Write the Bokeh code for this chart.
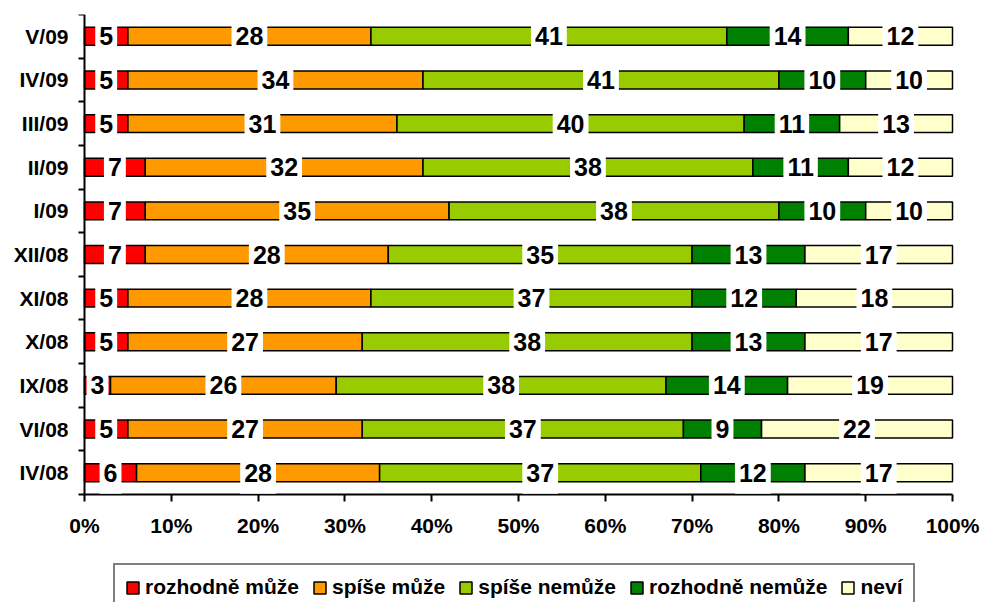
from bokeh.plotting import figure
from bokeh.models import (ColumnDataSource, FixedTicker, Label, Legend, LegendItem,
                          PrintfTickFormatter, Range1d)
from bokeh.embed import file_html
from bokeh.resources import INLINE

# categories listed top to bottom
categories = ["V/09", "IV/09", "III/09", "II/09", "I/09", "XII/08",
              "XI/08", "X/08", "IX/08", "VI/08", "IV/08"]
series_names = ["rozhodně může", "spíše může", "spíše nemůže", "rozhodně nemůže", "neví"]
rozhodne_muze = [5, 5, 5, 7, 7, 7, 5, 5, 3, 5, 6]
spise_muze = [28, 34, 31, 32, 35, 28, 28, 27, 26, 27, 28]
spise_nemuze = [41, 41, 40, 38, 38, 35, 37, 38, 38, 37, 37]
rozhodne_nemuze = [14, 10, 11, 11, 10, 13, 12, 13, 14, 9, 12]
nevi = [12, 10, 13, 12, 10, 17, 18, 17, 19, 22, 17]
x_ticks = [0, 10, 20, 30, 40, 50, 60, 70, 80, 90, 100]

series = [rozhodne_muze, spise_muze, spise_nemuze, rozhodne_nemuze, nevi]
colors = ["#FF0000", "#FF9900", "#99CC00", "#008000", "#FFFFCC"]
FONT = "Liberation Sans"

n = len(categories)
y_pos = [n - i - 0.5 for i in range(n)]
boundaries = list(range(n + 1))

# the frame covers the whole canvas below the top margin; axes are drawn at x=0 / y=0
W, H = 982, 602
LEFT, TOP = 84, 14
px_per_x = 868 / 100.0
px_per_y = 480 / n
x_min = -LEFT / px_per_x
x_max = (W - LEFT) / px_per_x
y_min = n - (H - TOP) / px_per_y

p = figure(width=W, height=H, x_range=Range1d(x_min, x_max), y_range=Range1d(y_min, n),
           output_backend="svg", toolbar_location=None,
           min_border_left=0, min_border_right=0, min_border_top=TOP, min_border_bottom=0)
p.outline_line_color = None
p.xgrid.visible = False
p.ygrid.visible = False
p.background_fill_color = "white"

renderers = []
lefts = [0] * n
label_data = []
for vals, col in zip(series, colors):
    rights = [l + v for l, v in zip(lefts, vals)]
    src = ColumnDataSource(dict(y=y_pos, left=lefts, right=rights))
    r = p.hbar(y="y", left="left", right="right", height=0.41, source=src,
               fill_color=col, line_color="black", line_width=1.5)
    renderers.append(r)
    for yy, l, rr, v in zip(y_pos, lefts, rights, vals):
        label_data.append(((l + rr) / 2, yy, str(v)))
    lefts = rights

for x, y, t in label_data:
    p.add_layout(Label(x=x, y=y, text=t, text_align="center", text_baseline="middle",
                       text_font=FONT, text_font_style="bold", text_font_size="25px",
                       text_color="black", background_fill_color="white",
                       padding=(4, 12), level="overlay"))

# x axis, drawn at y = 0
xa = p.xaxis[0]
xa.fixed_location = 0
xa.bounds = (0, 100)
xa.ticker = FixedTicker(ticks=x_ticks)
xa.formatter = PrintfTickFormatter(format="%d%%")
xa.axis_line_color = "black"
xa.axis_line_width = 2
xa.major_tick_line_color = "black"
xa.major_tick_line_width = 2
xa.major_tick_in = 0
xa.major_tick_out = 7
xa.minor_tick_line_color = None
xa.major_label_standoff = 12
xa.major_label_text_font = FONT
xa.major_label_text_font_style = "bold"
xa.major_label_text_font_size = "21px"
xa.major_label_text_color = "black"

# y axis at x = 0: labels at category centres, ticks at boundaries
ya = p.yaxis[0]
ya.fixed_location = 0
ya.bounds = (0, n)
ya.ticker = FixedTicker(ticks=y_pos, minor_ticks=boundaries)
ya.major_label_overrides = {y: c for y, c in zip(y_pos, categories)}
ya.axis_line_color = "black"
ya.axis_line_width = 2
ya.major_tick_line_color = None
ya.major_tick_in = 0
ya.major_tick_out = 0
ya.minor_tick_line_color = "black"
ya.minor_tick_line_width = 2
ya.minor_tick_in = 0
ya.minor_tick_out = 6
ya.major_label_standoff = 10
ya.major_label_text_font = FONT
ya.major_label_text_font_style = "bold"
ya.major_label_text_font_size = "21px"
ya.major_label_text_color = "black"

legend = Legend(items=[LegendItem(label=nm, renderers=[r]) for nm, r in zip(series_names, renderers)],
                orientation="horizontal", location=(113, -9),
                label_text_font=FONT, label_text_font_style="bold", label_text_font_size="21px",
                label_text_color="black",
                glyph_width=15, glyph_height=15, label_standoff=5, spacing=13, padding=10,
                border_line_color="black", border_line_width=2,
                background_fill_color="white", background_fill_alpha=1.0, margin=0)
p.add_layout(legend)

open("out.html", "w").write(file_html(p, INLINE))
